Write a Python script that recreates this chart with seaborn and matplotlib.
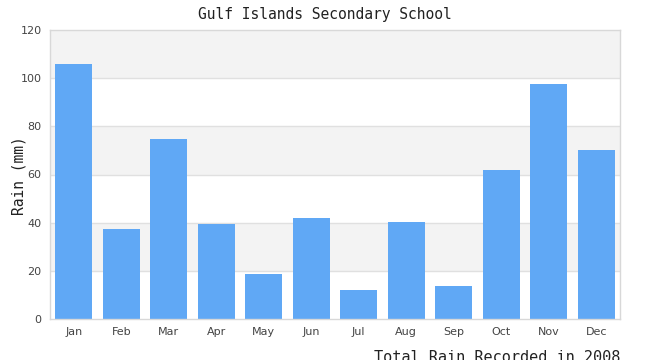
import matplotlib
matplotlib.use("Agg")
import matplotlib.pyplot as plt
import seaborn as sns
import pandas as pd

months = ["Jan", "Feb", "Mar", "Apr", "May", "Jun", "Jul", "Aug", "Sep", "Oct", "Nov", "Dec"]
rain = [106, 37.4, 74.8, 39.5, 18.7, 41.9, 12.0, 40.3, 13.7, 61.9, 97.6, 70.2]
yticks = [0, 20, 40, 60, 80, 100, 120]

sns.set_theme(style="white")
plt.rcParams['font.family'] = ['DejaVu Sans']

df = pd.DataFrame({"month": months, "rain": rain})

fig = plt.figure(figsize=(6.5, 3.6), dpi=100)
ax = fig.add_axes([50/650, 1-319/360, 570/650, 289/360])

# alternating bands
for i in range(len(yticks)-1):
    if i % 2 == 1:
        ax.axhspan(yticks[i], yticks[i+1], color="#f3f3f3", zorder=0, lw=0)
for t in yticks[1:-1]:
    ax.axhline(t, color="#e0e0e0", lw=1, zorder=0.5)

sns.barplot(data=df, x="month", y="rain", color="#60a8f5", saturation=1,
            width=0.78, linewidth=0, edgecolor="none", ax=ax, zorder=2)

ax.set_ylim(0, 120)
ax.set_xlim(-0.5, 11.5)
ax.set_yticks(yticks)
ax.tick_params(axis='both', labelsize=8, labelcolor="#444444", length=0, pad=6)
for s in ax.spines.values():
    s.set_color("#d8d8d8")
    s.set_linewidth(1)

ax.set_xlabel("")
ax.set_ylabel("")
fig.text(19/650, 1-176/360, "Rain (mm)", family="DejaVu Sans Mono", fontsize=10.5,
         color="#222222", rotation=90, ha="center", va="center")
fig.text(0.5, 1-14/360, "Gulf Islands Secondary School", family="DejaVu Sans Mono",
         fontsize=10.5, color="#222222", ha="center", va="center")
fig.text(620/650, 1-357/360, "Total Rain Recorded in 2008", family="DejaVu Sans Mono",
         fontsize=11, color="#222222", ha="right", va="center")

fig.savefig("out.png", dpi=100)
